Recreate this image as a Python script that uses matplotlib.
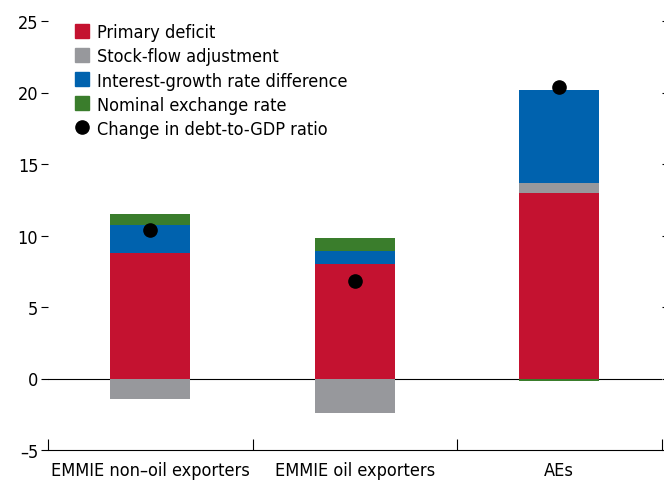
import matplotlib
matplotlib.use("Agg")
import matplotlib.pyplot as plt
from matplotlib import font_manager
from matplotlib.lines import Line2D
import numpy as np

# narrow sans font if there is one, otherwise condensed DejaVu
names = {f.name for f in font_manager.fontManager.ttflist}
if 'Liberation Sans Narrow' in names:
    plt.rcParams['font.family'] = ['Liberation Sans Narrow', 'DejaVu Sans']
else:
    plt.rcParams['font.family'] = ['DejaVu Sans']
    plt.rcParams['font.stretch'] = 'condensed'

# data (percentage points of GDP)
categories = ['EMMIE non\u2013oil exporters', 'EMMIE oil exporters', 'AEs']
primary_deficit = [8.8, 8.0, 13.0]
stock_flow = [-1.4, -2.4, 0.7]
interest_growth = [1.9, 0.9, 6.5]
exchange_rate = [0.8, 0.9, -0.2]
debt_change = [10.4, 6.8, 20.4]

series = [
    ('Primary deficit', primary_deficit, '#C41230'),
    ('Stock-flow adjustment', stock_flow, '#97989C'),
    ('Interest-growth rate difference', interest_growth, '#0062AE'),
    ('Nominal exchange rate', exchange_rate, '#3A7D2C'),
]

fig = plt.figure(figsize=(6.64, 4.81), dpi=100)
ax = fig.add_axes([48 / 664, 30 / 481, 613.5 / 664, 429 / 481])

x = np.arange(len(categories))
pos_bottom = np.zeros(len(categories))
neg_bottom = np.zeros(len(categories))
handles = []
for name, vals, col in series:
    vals = np.array(vals)
    bottom = np.where(vals >= 0, pos_bottom, neg_bottom)
    ax.bar(x, vals, width=0.39, bottom=bottom, color=col, zorder=2)
    pos_bottom += np.where(vals >= 0, vals, 0)
    neg_bottom += np.where(vals < 0, vals, 0)
    handles.append(Line2D([], [], marker='s', color=col, linestyle='None',
                          markersize=10, label=name))

ax.plot(x, debt_change, 'o', color='black', markersize=9.5, zorder=3)
handles.append(Line2D([], [], marker='o', color='black', linestyle='None',
                      markersize=9.5, label='Change in debt-to-GDP ratio'))

ax.axhline(0, color='black', linewidth=0.8, zorder=1)

ax.set_xlim(-0.5, 2.5)
ax.set_ylim(-5, 25)
ax.set_yticks([-5, 0, 5, 10, 15, 20, 25])
ax.set_yticklabels(['\u20135', '0', '5', '10', '15', '20', '25'])

ax.set_xticks(x)
ax.set_xticklabels(categories)
ax.set_xticks([-0.5, 0.5, 1.5, 2.5], minor=True)
ax.tick_params(axis='x', which='major', length=0, labelsize=13, pad=8)
ax.tick_params(axis='x', which='minor', direction='in', length=8, width=0.8)
ax.tick_params(axis='y', which='major', direction='out', length=5, width=0.8,
               labelsize=13, left=True, right=True, pad=2)

for side in ['left', 'right', 'top']:
    ax.spines[side].set_visible(False)
ax.spines['bottom'].set_linewidth(0.8)

ax.legend(handles=handles, loc='upper left', bbox_to_anchor=(0.026, 1.02),
          frameon=False, fontsize=13, handlelength=0.8, handletextpad=0.45,
          labelspacing=0.34, borderaxespad=0.2)

fig.savefig('out.png', dpi=100)
